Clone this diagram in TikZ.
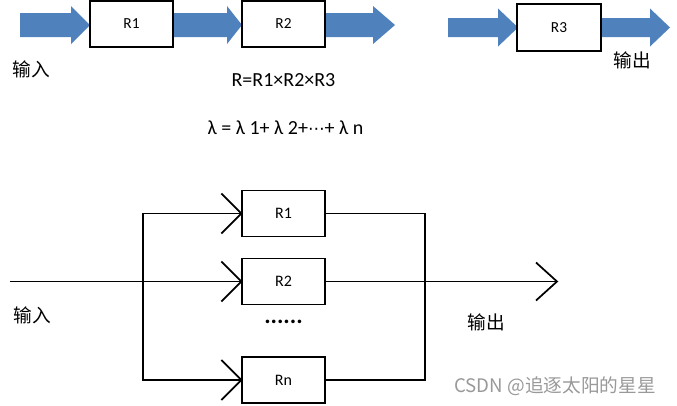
\documentclass[tikz,border=0pt]{standalone}
\usepackage{fontspec}
\setmainfont{Carlito}
\newfontfamily\cjk{Noto Sans CJK SC}
\newfontfamily\dejavu{DejaVu Sans}
\usetikzlibrary{calc}
\definecolor{blockblue}{RGB}{79,129,189}
\newcommand\BlockArrow[6]{%
  \fill[blockblue] ({#1},{#4-#5}) -- ({#2},{#4-#5}) -- ({#2},{#4-#6}) -- ({#3},{#4})
    -- ({#2},{#4+#6}) -- ({#2},{#4+#5}) -- ({#1},{#4+#5}) -- cycle;}
\begin{document}
\begin{tikzpicture}[x=0.75pt,y=-0.75pt,
  box/.style={draw, line width=0.8pt, fill=white, minimum width=62.25pt, minimum height=34.5pt, inner sep=0pt, font=\fontsize{11.5}{13}\selectfont},
  pbox/.style={draw, line width=1pt, fill=white, minimum width=62.25pt, minimum height=34.5pt, inner sep=0pt, font=\fontsize{12}{14}\selectfont},
  wire/.style={line width=1.3pt},
  cn/.style={font=\cjk\fontsize{14}{16}\selectfont, inner sep=0pt},
  eq/.style={font=\fontsize{15}{17}\selectfont, inner sep=0pt}
]
\useasboundingbox (0,0) rectangle (677,405);
\fill[white] (0,0) rectangle (677,405);
% top series
\BlockArrow{20}{71}{90}{25}{12}{19}
\BlockArrow{173}{227}{242}{25}{12}{19}
\BlockArrow{325}{373}{395}{25}{12}{19}
\BlockArrow{448}{498}{518}{27.5}{9.5}{19}
\BlockArrow{601}{650}{670}{27.5}{9.5}{19}
\node[box] (r1) at (131.5,24) {R1};
\node[box] (r2) at (283.5,24) {R2};
\node[box, minimum width=63pt, minimum height=35.25pt] (r3) at (559,27.5) {R3};
\node[cn] (in1) at (31,69) {输入};
\node[cn] (out1) at (632,60) {输出};
\node[eq] (req) at (283.5,80) {R=R1×R2×R3};
\node[eq] (leq) at (285.5,128) {λ = λ 1+ λ 2+{\dejavu\fontsize{12.5}{14}\selectfont ⋯}+ λ n};
% bottom parallel
\node[pbox] (b1) at (283.5,213.5) {R1};
\node[pbox] (b2) at (283.5,281.5) {R2};
\node[pbox] (bn) at (283.5,380) {Rn};
\node[font=\bfseries\fontsize{18}{20}\selectfont, inner sep=0pt] (dots) at (283.5,322) {......};
\coordinate (in) at (10,281.5);
\coordinate (lx) at (143,281.5);
\coordinate (rx) at (425,281.5);
\coordinate (out) at (557,281.5);
\draw[wire] (in) -- (b2.west);
\draw[wire] (b1.west) -| (bn.west -| lx) -- (bn.west);
\draw[wire] (b1.east) -| (bn.east -| rx) -- (bn.east);
\draw[wire] (b2.east) -- (out);
\foreach \n in {b1,b2,bn}{
  \draw[wire] ($(\n.west)+(-20,-20)$) -- (\n.west) -- ($(\n.west)+(-20,20)$);
}
\draw[wire] ($(out)+(-21,-19)$) -- (out) -- ($(out)+(-21,19)$);
\node[cn] (in2) at (32,315) {输入};
\node[cn] (out2) at (486,322) {输出};
\node[font=\cjk\fontsize{14}{16}\selectfont, text=black!40, inner sep=0pt] (wm) at (555,386) {CSDN @追逐太阳的星星};
\end{tikzpicture}
\end{document}
